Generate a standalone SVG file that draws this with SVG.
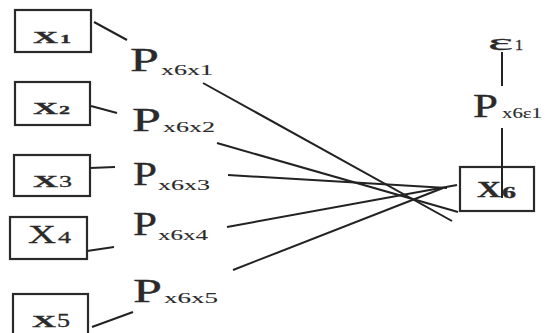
<svg xmlns="http://www.w3.org/2000/svg" width="558" height="333" viewBox="0 0 558 333">
<style>
.box{fill:none;stroke:#2a2a2a;stroke-width:2.2}
.ln{stroke:#222;stroke-width:2;fill:none}
.t{font-family:"Liberation Serif","DejaVu Serif",serif;fill:#2a2a2a;stroke:#2a2a2a;stroke-width:0.3}
.xb{font-weight:bold;font-size:17px}
.d{font-size:12px;font-weight:bold}
.p{font-size:33px}
.sub{font-size:15px;stroke-width:0.1}
</style>
<rect width="558" height="333" fill="#fff"/>
<g id="x1"><rect class="box" x="15" y="10" width="76" height="42"/><text class="t xb" x="33" y="43" textLength="25" lengthAdjust="spacingAndGlyphs">X</text><text class="t d" x="60" y="43" textLength="11" lengthAdjust="spacingAndGlyphs">1</text></g>
<g id="x2"><rect class="box" x="15" y="82" width="75" height="43"/><text class="t xb" x="33" y="114" textLength="25" lengthAdjust="spacingAndGlyphs">X</text><text class="t d" x="59" y="114" textLength="11" lengthAdjust="spacingAndGlyphs">2</text></g>
<g id="x3"><rect class="box" x="14" y="155" width="76" height="41"/><text class="t xb" x="33" y="187" textLength="25" lengthAdjust="spacingAndGlyphs">X</text><text class="t" x="59" y="187" font-size="17" textLength="13" lengthAdjust="spacingAndGlyphs">3</text></g>
<g id="x4"><rect class="box" x="10" y="217" width="77" height="42"/><text class="t" x="28" y="243" font-size="26" textLength="28" lengthAdjust="spacingAndGlyphs">X</text><text class="t" x="58" y="243" font-size="17" textLength="13" lengthAdjust="spacingAndGlyphs">4</text></g>
<g id="x5"><rect class="box" x="13" y="294" width="75" height="45"/><text class="t xb" x="32" y="327" textLength="24" lengthAdjust="spacingAndGlyphs">X</text><text class="t" x="57" y="327" font-size="19" textLength="13" lengthAdjust="spacingAndGlyphs">5</text></g>
<g id="x6"><rect class="box" x="460" y="167" width="74" height="44"/><text class="t" x="477" y="197" font-size="24" font-weight="bold" textLength="24" lengthAdjust="spacingAndGlyphs">X</text><text class="t" x="502" y="198" font-size="16" font-weight="bold" textLength="14" lengthAdjust="spacingAndGlyphs">6</text></g>
<g id="labels">
<text class="t p" x="130" y="71" textLength="29" lengthAdjust="spacingAndGlyphs">P</text><text class="t sub" x="161" y="75" textLength="52" lengthAdjust="spacingAndGlyphs">x6x1</text>
<text class="t p" x="132" y="131" textLength="29" lengthAdjust="spacingAndGlyphs">P</text><text class="t sub" x="163" y="132" textLength="52" lengthAdjust="spacingAndGlyphs">x6x2</text>
<text class="t p" x="133" y="185" font-size="25" textLength="24" lengthAdjust="spacingAndGlyphs">P</text><text class="t sub" x="158" y="190" textLength="52" lengthAdjust="spacingAndGlyphs">x6x3</text>
<text class="t p" x="133" y="235" font-size="25" textLength="24" lengthAdjust="spacingAndGlyphs">P</text><text class="t sub" x="158" y="240" textLength="50" lengthAdjust="spacingAndGlyphs">x6x4</text>
<text class="t p" x="133" y="302" textLength="29" lengthAdjust="spacingAndGlyphs">P</text><text class="t sub" x="164" y="303" font-size="13" textLength="54" lengthAdjust="spacingAndGlyphs">x6x5</text>
<text class="t" x="488" y="50" font-size="24" textLength="25" lengthAdjust="spacingAndGlyphs">ε</text><text class="t" x="515" y="50" font-size="15" textLength="8" lengthAdjust="spacingAndGlyphs">1</text>
<text class="t p" x="473" y="117" textLength="25" lengthAdjust="spacingAndGlyphs">P</text><text class="t sub" x="502" y="118" font-size="12" textLength="40" lengthAdjust="spacingAndGlyphs">x6ε1</text>
</g>
<g id="connectors">
<line class="ln" x1="94" y1="22" x2="127" y2="40"/>
<line class="ln" x1="91" y1="106" x2="117" y2="113"/>
<line class="ln" x1="90" y1="168" x2="115" y2="167"/>
<line class="ln" x1="87" y1="251" x2="114" y2="247"/>
<line class="ln" x1="92" y1="327" x2="133" y2="312"/>
<line class="ln" x1="203" y1="83" x2="452" y2="221"/>
<line class="ln" x1="217" y1="143" x2="458" y2="212"/>
<line class="ln" x1="228" y1="175" x2="447" y2="188"/>
<line class="ln" x1="227" y1="227" x2="457" y2="185"/>
<line class="ln" x1="233" y1="270" x2="443" y2="188"/>
<line class="ln" x1="502" y1="52" x2="502" y2="86"/>
<line class="ln" x1="502" y1="128" x2="502" y2="198"/>
</g>
</svg>
